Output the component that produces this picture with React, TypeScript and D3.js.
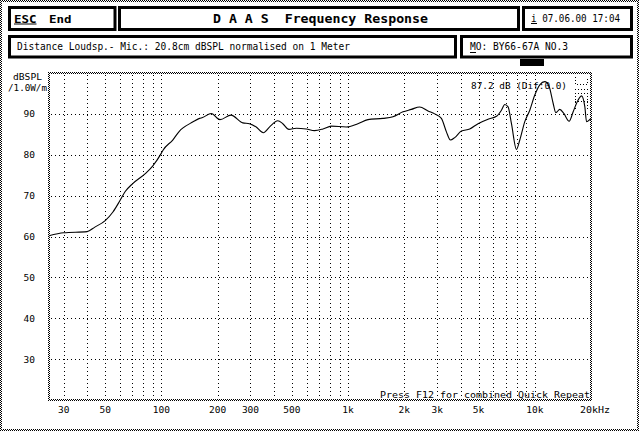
import React from "react";
import * as d3 from "d3";

// frequency response readings (Hz, dBSPL)
const freqs = [
  25, 30, 40, 44, 50, 55, 60, 64, 70, 82, 90, 100, 102, 115, 125, 130, 147, 160, 166, 185,
  206, 236, 273, 296, 322, 352, 380, 420, 447, 482, 528, 597, 661, 733, 813, 978, 1128,
  1277, 1537, 1739, 1967, 2182, 2417, 2679, 2910, 3160, 3362, 3532, 3724, 4046, 4483,
  4966, 5617, 6232, 6627, 6904, 7193, 7499, 7978, 8312, 8839, 9401, 10000, 10636, 11312,
  11932, 12537, 12962, 13614, 14304, 15276, 16051, 16737, 17802, 18539, 18932, 20000,
];
const levels = [
  60.2, 60.9, 61.2, 62.3, 63.9, 66.0, 68.8, 71.0, 72.9, 75.4, 77.3, 80.4, 81.1, 83.6,
  85.8, 86.5, 88.0, 88.9, 89.1, 90.1, 88.6, 89.7, 87.8, 87.6, 86.8, 85.4, 86.8, 88.3,
  87.6, 86.2, 86.5, 86.3, 85.9, 86.3, 87.0, 86.8, 87.6, 88.6, 88.9, 89.3, 90.5, 91.1,
  91.7, 90.7, 90.0, 88.9, 85.6, 83.6, 84.2, 85.8, 86.3, 87.6, 88.7, 89.4, 90.9, 92.3,
  91.7, 87.6, 81.3, 83.6, 88.1, 90.9, 94.6, 97.1, 97.9, 96.7, 92.6, 90.3, 91.1, 90.1,
  88.2, 90.5, 92.6, 94.4, 91.7, 88.1, 88.9,
];

const xLabelValues = [30, 50, 100, 200, 300, 500, 1000, 2000, 3000, 5000, 10000];
const xLabels = ["30", "50", "100", "200", "300", "500", "1k", "2k", "3k", "5k", "10k"];
const yTicks = [30, 40, 50, 60, 70, 80, 90];

const W = 640;
const H = 431;
const mono = "'DejaVu Sans Mono', 'Liberation Mono', monospace";

const x = d3.scaleLog().domain([25, 20000]).range([49, 591]);
const y = d3.scaleLinear().domain([20, 100]).range([400, 73]);

// dithered frame band of thickness t
function Band({ x0, y0, x1, y1, t }: { x0: number; y0: number; x1: number; y1: number; t: number }) {
  return (
    <g fill="url(#dither)">
      <rect x={x0} y={y0} width={x1 - x0} height={t} />
      <rect x={x0} y={y1 - t} width={x1 - x0} height={t} />
      <rect x={x0} y={y0} width={t} height={y1 - y0} />
      <rect x={x1 - t} y={y0} width={t} height={y1 - y0} />
    </g>
  );
}

function Box({ x0, y0, x1, y1 }: { x0: number; y0: number; x1: number; y1: number }) {
  return (
    <rect x={x0 + 1.5} y={y0 + 1.5} width={x1 - x0 - 3} height={y1 - y0 - 3}
      fill="white" stroke="black" strokeWidth={3} />
  );
}

export default function App() {
  const line = d3
    .line<number>()
    .x((_, i) => x(freqs[i]))
    .y((d) => y(d))
    .curve(d3.curveMonotoneX);

  const gridF = x.ticks().filter((f) => f > 25 && f < 20000);

  return (
    <svg width={W} height={H} style={{ position: "absolute", left: 0, top: 0, background: "white" }}
      fontFamily={mono}>
      <defs>
        <pattern id="dither" width={2} height={2} patternUnits="userSpaceOnUse">
          <rect x={0} y={0} width={1} height={1} fill="black" />
          <rect x={1} y={1} width={1} height={1} fill="black" />
        </pattern>
      </defs>
      <rect x={0} y={0} width={W} height={H} fill="white" />
      <Band x0={0} y0={0} x1={639} y1={431} t={2} />

      {/* header boxes */}
      <Box x0={8} y0={6} x1={116.5} y1={31} />
      <Box x0={118} y0={6} x1={520} y1={31} />
      <Box x0={522} y0={6} x1={633} y1={31} />
      <Box x0={8} y0={35} x1={457} y1={58.5} />
      <Box x0={460} y0={35} x1={633} y1={58.5} />
      <rect x={520} y={59} width={24} height={7} fill="black" />

      <g fill="black">
        <text x={14} y={23} fontSize={11} fontWeight="bold" textLength={22.5} lengthAdjust="spacingAndGlyphs">ESC</text>
        <rect x={14} y={23.5} width={22.5} height={1} />
        <text x={49} y={23} fontSize={11} fontWeight="bold" textLength={22.5} lengthAdjust="spacingAndGlyphs">End</text>
        <text x={213} y={23} fontSize={11.5} fontWeight="bold" textLength={215} lengthAdjust="spacingAndGlyphs">{"D A A S\u00a0 Frequency Response"}</text>
        <text x={531} y={21.5} fontSize={10} textLength={89} lengthAdjust="spacingAndGlyphs">i 07.06.00 17:04</text>
        <rect x={531} y={23} width={6} height={1} />
        <text x={17} y={50} fontSize={10} textLength={333} lengthAdjust="spacingAndGlyphs">Distance Loudsp.- Mic.: 20.8cm dBSPL normalised on 1 Meter</text>
        <text x={470} y={49.5} fontSize={10} textLength={98} lengthAdjust="spacingAndGlyphs">MO: BY66-67A NO.3</text>
        <rect x={470} y={52} width={6} height={1} />
      </g>

      {/* grid */}
      <g stroke="black" strokeWidth={1} strokeDasharray="1 3" shapeRendering="crispEdges">
        {gridF.map((f) => (
          <line key={"v" + f} x1={Math.round(x(f)) + 0.5} x2={Math.round(x(f)) + 0.5} y1={75} y2={398} />
        ))}
        {yTicks.map((v) => (
          <line key={"h" + v} x1={51} x2={589} y1={Math.round(y(v)) + 0.5} y2={Math.round(y(v)) + 0.5} />
        ))}
      </g>

      {/* small indicator top right */}
      <g stroke="black" strokeWidth={1} strokeDasharray="1 2" fill="none" shapeRendering="crispEdges">
        <path d="M575.5,77 V84.5 H587.5 V77" />
        <line x1={575} x2={588} y1={89.5} y2={89.5} />
        <line x1={575} x2={588} y1={93.5} y2={93.5} />
        <line x1={575} x2={588} y1={101.5} y2={101.5} />
        <line x1={575.5} x2={575.5} y1={96} y2={110} />
        <line x1={587.5} x2={587.5} y1={96} y2={110} />
      </g>

      <Band x0={48} y0={72} x1={592} y1={401} t={2} />

      {/* labels */}
      <g fill="black" fontSize={9.5}>
        <text x={13} y={80} textLength={29} lengthAdjust="spacingAndGlyphs">dBSPL</text>
        <text x={8} y={91} textLength={39} lengthAdjust="spacingAndGlyphs">/1.0W/m</text>
        {yTicks.map((v) => (
          <text key={v} x={35} y={y(v) + 3.5} textAnchor="end">{v}</text>
        ))}
        {xLabelValues.map((f, i) => (
          <text key={f} x={x(f)} y={412.5} textAnchor="middle">{xLabels[i]}</text>
        ))}
        <text x={580} y={412.5} textLength={30} lengthAdjust="spacingAndGlyphs">20kHz</text>
        <text x={471} y={89} textLength={96} lengthAdjust="spacingAndGlyphs">87.2 dB (Dif:0.0)</text>
        <text x={380} y={397.5} textLength={210} lengthAdjust="spacingAndGlyphs">Press F12 for combined Quick Repeat</text>
      </g>

      <path d={line(levels) ?? ""} fill="none" stroke="black" strokeWidth={1.1} />
    </svg>
  );
}
